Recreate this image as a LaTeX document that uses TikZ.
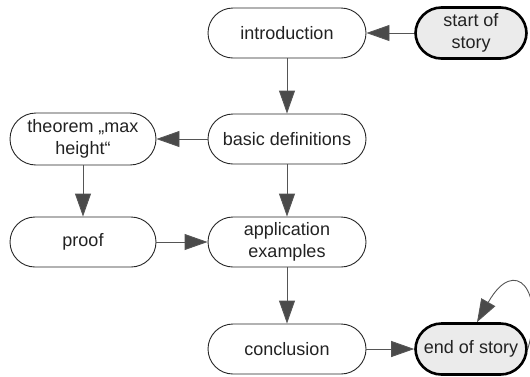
\documentclass[tikz,border=0pt]{standalone}
\usepackage{fontspec}
\setmainfont{Liberation Sans}
\usetikzlibrary{arrows.meta}
\definecolor{edgegray}{HTML}{555555}
\definecolor{tipgray}{HTML}{4A4A4A}
\definecolor{termfill}{HTML}{EBEBEB}
\definecolor{inkgray}{HTML}{222222}
\begin{document}
\begin{tikzpicture}[x=1pt,y=-1pt,
  every node/.style={font=\fontsize{18}{21.5}\selectfont, text=inkgray, align=center, inner sep=0pt},
  stadium/.style={draw=black!85, line width=0.9pt, rounded corners=25pt,
    minimum width=158pt, minimum height=50pt},
  sidebox/.style={stadium, minimum width=146pt},
  terminal/.style={draw=black, line width=2.6pt, fill=termfill, rounded corners=26pt,
    minimum width=111pt, minimum height=51pt},
  link/.style={draw=edgegray, line width=0.9pt,
    -{Triangle[length=23pt, width=16pt, fill=tipgray]}, color=edgegray}]
  \useasboundingbox (0,0) rectangle (530,376);
  \clip (0,0) rectangle (530,376);

  % main column
  \node[stadium] (intro) at (287,33) {introduction};
  \node[stadium] (defs)  at (287,139) {basic definitions};
  \node[stadium] (apps)  at (287,242) {application\\examples};
  \node[stadium] (concl) at (287,349) {conclusion};

  % side column
  \node[sidebox, minimum height=52pt, rounded corners=26pt] (thm) at (83,139) {theorem „max\\height“};
  \node[sidebox] (proof) at (83,242) {proof};

  % start and end
  \node[terminal] (start) at (471,33) {start of\\story};
  \node[terminal] (end)   at (471,349) {end of story};

  % connectors
  \draw[link] (start) -- (intro);
  \draw[link] (intro) -- (defs);
  \draw[link] (defs) -- (thm);
  \draw[link] (defs) -- (apps);
  \draw[link] (thm) -- (proof);
  \draw[link] (proof) -- (apps);
  \draw[link] (apps) -- (concl);
  \draw[link] (concl) -- (end);
  \coordinate (endtop) at ([xshift=6pt]end.north);
  \draw[link] (end.east) .. controls (545,290) and (515,255) .. (endtop);
\end{tikzpicture}
\end{document}
